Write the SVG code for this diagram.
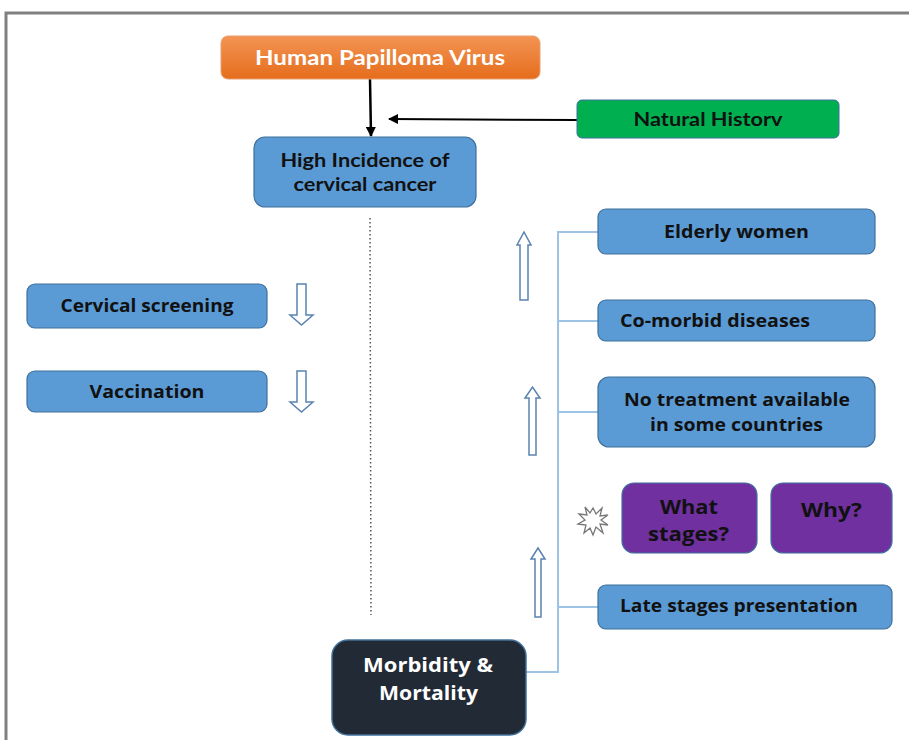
<svg xmlns="http://www.w3.org/2000/svg" width="909" height="740" viewBox="0 0 909 740">
<defs>
<linearGradient id="og" x1="0" y1="0" x2="0" y2="1"><stop offset="0" stop-color="#f39454"/><stop offset="1" stop-color="#e56d1c"/></linearGradient>
<marker id="ah" markerWidth="10" markerHeight="10" refX="9" refY="5" orient="auto" markerUnits="userSpaceOnUse"><path d="M0,0 L10,5 L0,10 Z" fill="#000"/></marker>
</defs>
<style>
.blue{fill:#5b9bd5;stroke:#41719c;stroke-width:1.2}
.purple{fill:#7030a0;stroke:#41719c;stroke-width:1.2}
.t{font-family:"Open Sans","DejaVu Sans",sans-serif;font-weight:bold;fill:#111;text-anchor:middle}
.c{font-family:Lato,"Liberation Sans",sans-serif;font-weight:bold;text-anchor:middle}
.hollow{fill:#fff;stroke:#5a82b0;stroke-width:1.5}
.branch{fill:none;stroke:#9dc3e6;stroke-width:2}
</style>
<rect x="0" y="0" width="909" height="740" fill="#fff"/>
<path d="M6,742 L6,13 L912,13" fill="none" stroke="#808080" stroke-width="3"/>
<g id="connectors">
<line x1="370" y1="79" x2="371" y2="136" stroke="#000" stroke-width="2.5" marker-end="url(#ah)"/>
<line x1="577" y1="120" x2="389" y2="119" stroke="#000" stroke-width="2" marker-end="url(#ah)"/>
<line x1="370" y1="218" x2="371" y2="615" stroke="#555" stroke-width="1.5" stroke-dasharray="1.5,2.5"/>
<path class="branch" d="M598,232 H558 V672 H526 M558,321 H598 M558,412 H598 M558,607 H598"/>
</g>
<g id="hpv"><rect x="221" y="36" width="319" height="43" rx="7" fill="url(#og)" stroke="#e8a070" stroke-width="1"/><text class="c" x="380" y="65" font-size="20" fill="#fff" textLength="250" lengthAdjust="spacingAndGlyphs">Human Papilloma Virus</text></g>
<g id="natural-history"><rect x="577" y="100" width="262" height="38" rx="5" fill="#00b050" stroke="#41719c" stroke-width="1"/><text class="c" x="708" y="126" font-size="18" fill="#111" textLength="149" lengthAdjust="spacingAndGlyphs">Natural Historv</text></g>
<g id="high-incidence"><rect class="blue" x="254" y="137" width="222" height="70" rx="11"/><text class="c" x="365" y="167" font-size="18" fill="#111" textLength="169" lengthAdjust="spacingAndGlyphs">High Incidence of</text><text class="c" x="365" y="191" font-size="18" fill="#111" textLength="143" lengthAdjust="spacingAndGlyphs">cervical cancer</text></g>
<g id="screening"><rect class="blue" x="27" y="284" width="240" height="44" rx="8"/><text class="t" x="147" y="312" font-size="17" textLength="173" lengthAdjust="spacingAndGlyphs">Cervical screening</text></g>
<g id="vaccination"><rect class="blue" x="27" y="371" width="240" height="41" rx="8"/><text class="t" x="147" y="398" font-size="17" textLength="115" lengthAdjust="spacingAndGlyphs">Vaccination</text></g>
<g id="down-arrow-1"><path class="hollow" d="M297,284 H306 V315 H313 L301.5,325 L290,315 H297 Z"/></g>
<g id="down-arrow-2"><path class="hollow" d="M297,371 H306 V402 H313 L301.5,412 L290,402 H297 Z"/></g>
<g id="up-arrow-1"><path class="hollow" d="M520,300 V245 H517 L524,232 L531,245 H528 V300 Z"/></g>
<g id="up-arrow-2"><path class="hollow" d="M529,455 V398 H525 L532.5,387 L540,398 H536 V455 Z"/></g>
<g id="up-arrow-3"><path class="hollow" d="M535,617 V559 H531 L538,548 L545,559 H541 V617 Z"/></g>
<g id="elderly"><rect class="blue" x="598" y="209" width="277" height="45" rx="8"/><text class="t" x="736.5" y="238" font-size="17" textLength="145" lengthAdjust="spacingAndGlyphs">Elderly women</text></g>
<g id="comorbid"><rect class="blue" x="598" y="300" width="277" height="41" rx="8"/><text class="t" x="715" y="327" font-size="17" textLength="190" lengthAdjust="spacingAndGlyphs">Co-morbid diseases</text></g>
<g id="no-treatment"><rect class="blue" x="598" y="377" width="277" height="70" rx="11"/><text class="t" x="737" y="406" font-size="17" textLength="226" lengthAdjust="spacingAndGlyphs">No treatment available</text><text class="t" x="736.5" y="431" font-size="17" textLength="173" lengthAdjust="spacingAndGlyphs">in some countries</text></g>
<g id="starburst"><polygon points="593,508 596,514 602,508 600,516 608,515 601,520 608,525 600,524 603,533 596,527 593,535 590,528 584,533 586,525 578,524 585,520 579,514 587,515 585,507 590,513" fill="#fff" stroke="#777" stroke-width="1.3"/></g>
<g id="what-stages"><rect class="purple" x="622" y="483" width="135" height="70" rx="12"/><text class="t" x="689" y="514" font-size="19" textLength="58" lengthAdjust="spacingAndGlyphs">What</text><text class="t" x="688.5" y="541" font-size="19" textLength="81" lengthAdjust="spacingAndGlyphs">stages?</text></g>
<g id="why"><rect class="purple" x="771" y="483" width="121" height="70" rx="12"/><text class="t" x="831.5" y="517" font-size="19" textLength="61" lengthAdjust="spacingAndGlyphs">Why?</text></g>
<g id="late-stages"><rect class="blue" x="598" y="585" width="294" height="44" rx="8"/><text class="t" x="739" y="612" font-size="17" textLength="238" lengthAdjust="spacingAndGlyphs">Late stages presentation</text></g>
<g id="morbidity"><rect x="332" y="640" width="194" height="95" rx="16" fill="#222a35" stroke="#41719c" stroke-width="1.5"/><text class="t" x="428" y="672" font-size="19" style="fill:#fff" textLength="130" lengthAdjust="spacingAndGlyphs">Morbidity &amp;</text><text class="t" x="428.5" y="700" font-size="19" style="fill:#fff" textLength="99" lengthAdjust="spacingAndGlyphs">Mortality</text></g>
</svg>
